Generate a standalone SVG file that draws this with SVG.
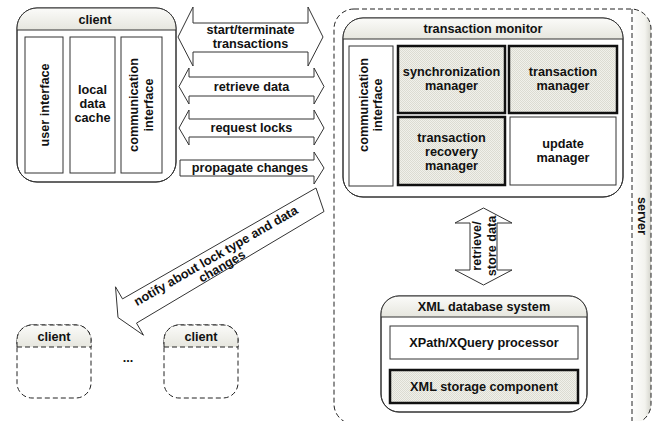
<svg xmlns="http://www.w3.org/2000/svg" width="654" height="421" viewBox="0 0 654 421">
  <defs>
    <linearGradient id="hdr" x1="0" y1="0" x2="0" y2="1">
      <stop offset="0" stop-color="#fbfbf9"/>
      <stop offset="1" stop-color="#e6e6de"/>
    </linearGradient>
    <linearGradient id="col" x1="0" y1="0" x2="1" y2="0">
      <stop offset="0" stop-color="#ffffff"/>
      <stop offset="0.7" stop-color="#f3f3ee"/>
      <stop offset="1" stop-color="#d4d4cc"/>
    </linearGradient>
    <pattern id="hatch" width="2" height="2" patternUnits="userSpaceOnUse">
      <rect width="2" height="2" fill="#f1f1eb"/>
      <rect width="1" height="1" fill="#dcdcd2"/>
      <rect x="1" y="1" width="1" height="1" fill="#dcdcd2"/>
    </pattern>
  </defs>
  <style>
    text { font-family: "Liberation Sans", Arial, sans-serif; font-weight: bold; font-size: 12.7px; fill: #111; text-anchor: middle; }
    .frame { fill: #fff; stroke: #333; stroke-width: 1; }
    .hdr { fill: url(#hdr); stroke: none; }
    .sep { stroke: #333; stroke-width: 1; fill: none; }
    .box { fill: #fff; stroke: #333; stroke-width: 1; }
    .core { fill: url(#hatch); stroke: #111; stroke-width: 2.5; }
    .dash { fill: none; stroke: #222; stroke-width: 1; stroke-dasharray: 5 3; }
    .dashfill { fill: #fff; stroke: #222; stroke-width: 1; stroke-dasharray: 5 3; }
    .arrow { fill: #fff; stroke: #333; stroke-width: 1; stroke-linejoin: miter; }
  </style>

  <!-- server container with vertical title column on the right -->
  <g id="server">
    <rect x="334" y="9" width="317" height="415" rx="20" fill="#fff"/>
    <path d="M632,9 L631,9 A20,20 0 0 1 651,29 L651,404 A20,20 0 0 1 631,424 L632,424 Z" fill="url(#col)"/>
    <line x1="632" y1="9" x2="632" y2="424" class="dash"/>
    <rect x="334" y="9" width="317" height="415" rx="20" class="dash"/>
    <text transform="translate(642,216) rotate(90)" y="4.5">server</text>
  </g>

  <!-- client -->
  <g id="client">
    <rect x="17" y="8" width="159" height="174" rx="20" class="frame"/>
    <path d="M17,30 L17,28 A20,20 0 0 1 37,8 L156,8 A20,20 0 0 1 176,28 L176,30 Z" class="hdr"/>
    <rect x="17" y="8" width="159" height="174" rx="20" fill="none" stroke="#333"/>
    <line x1="17" y1="30" x2="176" y2="30" class="sep"/>
    <text x="95" y="24">client</text>
  </g>
  <g id="user-interface">
    <rect x="25" y="37" width="38" height="136" class="box"/>
    <text transform="translate(44,105) rotate(-90)" y="4.5">user interface</text>
  </g>
  <g id="local-data-cache">
    <rect x="70" y="37" width="45" height="136" class="box"/>
    <text x="92.5" y="94">local</text>
    <text x="92.5" y="108">data</text>
    <text x="92.5" y="122">cache</text>
  </g>
  <g id="client-communication-interface">
    <rect x="121" y="37" width="41" height="136" class="box"/>
    <text transform="translate(141.5,105) rotate(-90)"><tspan x="0" y="-3.5">communication</tspan><tspan x="0" y="11">interface</tspan></text>
  </g>

  <!-- transaction monitor -->
  <g id="transaction-monitor">
    <rect x="343" y="18" width="280" height="179" rx="20" class="frame"/>
    <path d="M343,39 L343,38 A20,20 0 0 1 363,18 L603,18 A20,20 0 0 1 623,38 L623,39 Z" class="hdr"/>
    <rect x="343" y="18" width="280" height="179" rx="20" fill="none" stroke="#333"/>
    <line x1="343" y1="39" x2="623" y2="39" class="sep"/>
    <text x="483" y="32.5">transaction monitor</text>
  </g>
  <g id="server-communication-interface">
    <rect x="349" y="46" width="44" height="140" class="box"/>
    <text transform="translate(371,105) rotate(-90)"><tspan x="0" y="-3">communication</tspan><tspan x="0" y="11">interface</tspan></text>
  </g>
  <g id="synchronization-manager">
    <rect x="398" y="46" width="107" height="67" class="core"/>
    <text x="451.5" y="76">synchronization</text>
    <text x="451.5" y="90">manager</text>
  </g>
  <g id="transaction-manager">
    <rect x="509" y="46" width="108" height="67" class="core"/>
    <text x="563" y="76">transaction</text>
    <text x="563" y="90">manager</text>
  </g>
  <g id="transaction-recovery-manager">
    <rect x="398" y="117" width="107" height="68" class="core"/>
    <text x="451.5" y="141.5">transaction</text>
    <text x="451.5" y="155.5">recovery</text>
    <text x="451.5" y="169.5">manager</text>
  </g>
  <g id="update-manager">
    <rect x="510" y="117" width="106" height="68" class="box"/>
    <text x="563" y="148">update</text>
    <text x="563" y="162">manager</text>
  </g>

  <!-- XML database system -->
  <g id="xml-database-system">
    <rect x="381" y="296" width="206" height="116" rx="18" class="frame"/>
    <path d="M381,317 L381,314 A18,18 0 0 1 399,296 L569,296 A18,18 0 0 1 587,314 L587,317 Z" class="hdr"/>
    <rect x="381" y="296" width="206" height="116" rx="18" fill="none" stroke="#333"/>
    <line x1="381" y1="317" x2="587" y2="317" class="sep"/>
    <text x="484" y="310.5">XML database system</text>
  </g>
  <g id="xpath-processor">
    <rect x="390" y="326" width="188" height="33" class="box"/>
    <text x="484" y="346.5">XPath/XQuery processor</text>
  </g>
  <g id="xml-storage-component">
    <rect x="390" y="370" width="188" height="33" class="core"/>
    <text x="484" y="390.5">XML storage component</text>
  </g>

  <!-- further clients -->
  <g id="client-2">
    <rect x="17" y="325" width="74" height="73" rx="15" class="dashfill"/>
    <path d="M17,347 L17,340 A15,15 0 0 1 32,325 L76,325 A15,15 0 0 1 91,340 L91,347 Z" class="hdr"/>
    <path d="M17,347 L17,340 A15,15 0 0 1 32,325 L76,325 A15,15 0 0 1 91,340 L91,347" class="dash"/>
    <line x1="17" y1="347" x2="91" y2="347" class="dash"/>
    <text x="54" y="340.5">client</text>
  </g>
  <g id="ellipsis">
    <text x="128" y="362">...</text>
  </g>
  <g id="client-n">
    <rect x="164" y="325" width="74" height="73" rx="15" class="dashfill"/>
    <path d="M164,347 L164,340 A15,15 0 0 1 179,325 L223,325 A15,15 0 0 1 238,340 L238,347 Z" class="hdr"/>
    <path d="M164,347 L164,340 A15,15 0 0 1 179,325 L223,325 A15,15 0 0 1 238,340 L238,347" class="dash"/>
    <line x1="164" y1="347" x2="238" y2="347" class="dash"/>
    <text x="201" y="340.5">client</text>
  </g>

  <!-- block-arrow connectors -->
  <g id="connectors">
    <g id="start-terminate">
      <polygon points="178,37 193,7 193,23 308,23 308,7 323,37 308,66 308,52 193,52 193,66" class="arrow"/>
      <text x="250.5" y="34.3">start/terminate</text>
      <text x="250.5" y="48.3">transactions</text>
    </g>
    <g id="retrieve-data">
      <polygon points="179,86.5 189,68 189,77 314,77 314,68 324,86.5 314,104 314,96 189,96 189,104" class="arrow"/>
      <text x="251.5" y="91">retrieve data</text>
    </g>
    <g id="request-locks">
      <polygon points="179,128 189,110 189,119 314,119 314,110 324,128 314,145 314,137 189,137 189,145" class="arrow"/>
      <text x="251.5" y="132">request locks</text>
    </g>
    <g id="propagate-changes">
      <polygon points="180,160 314,160 314,152 324,168 314,184 314,176 180,176" class="arrow"/>
      <text x="250" y="172">propagate changes</text>
    </g>
    <g id="notify">
      <polygon points="118,317.5 115.5,286.8 122.5,298.9 316,188 324,211.5 136.5,323.1 143.5,335.2" class="arrow"/>
      <text transform="translate(216,256) rotate(-30)" y="4">notify about lock type and data</text>
      <text transform="translate(222,266.5) rotate(-30)" y="4">changes</text>
    </g>
    <g id="retrieve-store-data">
      <polygon points="483.5,208 512,223 497,223 497,270 512,270 483.5,285 455,270 470,270 470,223 455,223" class="arrow"/>
      <text transform="translate(483.5,246) rotate(-90)"><tspan x="0" y="-3">retrieve/</tspan><tspan x="0" y="12">store data</tspan></text>
    </g>
  </g>
</svg>
